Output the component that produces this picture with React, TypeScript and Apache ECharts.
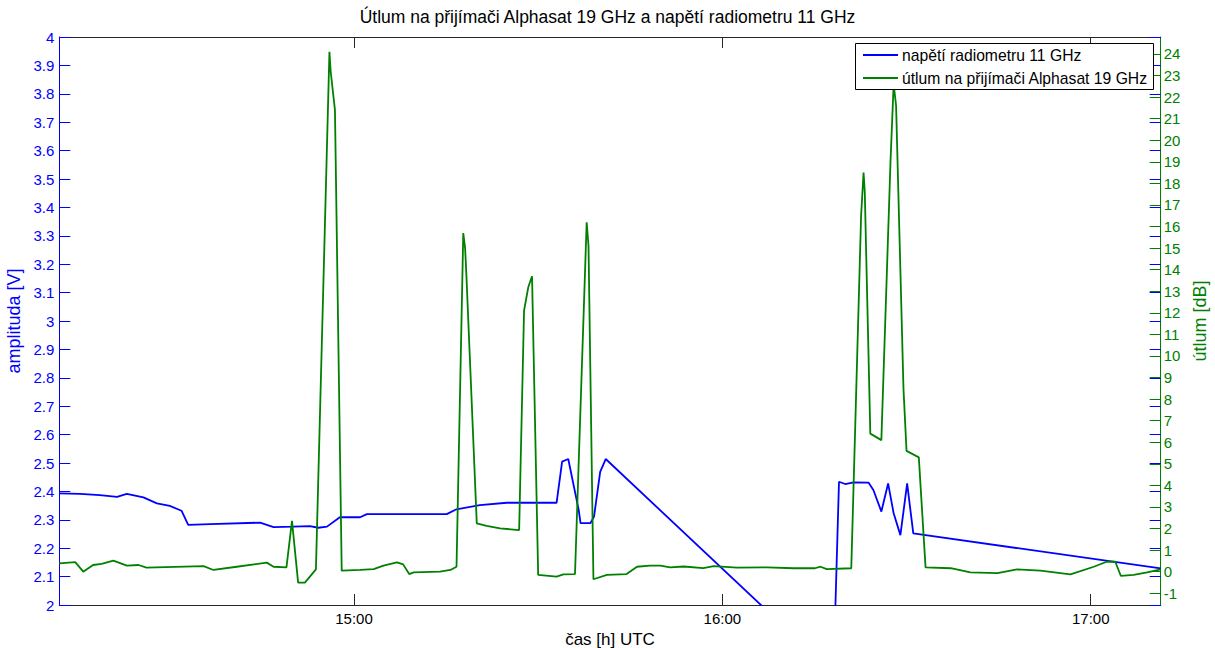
import React, { useEffect, useRef } from "react";
import * as echarts from "echarts";

// time in minutes after 14:00 UTC
const blueT = [12.0, 15.4, 18.6, 21.4, 23.0, 25.7, 27.9, 30.0, 31.9, 33.0, 36.6, 44.7, 46.9, 50.1, 52.8, 54.2, 55.6, 57.7, 61.0, 62.1, 75.1, 76.7, 80.5, 84.9, 93.0, 93.9, 94.9, 96.6, 96.9, 98.5, 99.1, 100.1, 101.0, 138.1, 139.0, 140.0, 141.4, 143.8, 144.6, 145.9, 147.0, 147.9, 149.0, 150.1, 151.1, 191.4];
const blueV = [2.393, 2.391, 2.387, 2.381, 2.391, 2.379, 2.358, 2.349, 2.332, 2.282, 2.285, 2.290, 2.274, 2.276, 2.278, 2.272, 2.276, 2.309, 2.309, 2.320, 2.320, 2.337, 2.352, 2.360, 2.360, 2.505, 2.514, 2.335, 2.288, 2.288, 2.311, 2.469, 2.514, 1.76, 2.434, 2.426, 2.432, 2.431, 2.405, 2.329, 2.428, 2.323, 2.246, 2.428, 2.252, 2.129];

const greenT = [12.0, 14.6, 15.9, 17.5, 18.9, 20.8, 23.0, 24.9, 26.2, 35.5, 37.1, 40.9, 45.8, 46.9, 49.0, 49.9, 50.9, 52.0, 53.8, 56.0, 56.2, 56.9, 58.0, 61.0, 63.2, 64.8, 67.0, 68.0, 69.0, 69.7, 74.0, 75.7, 76.7, 77.8, 78.1, 78.3, 80.0, 81.6, 83.8, 86.9, 87.7, 88.4, 89.0, 90.0, 93.0, 94.1, 96.0, 97.9, 98.2, 99.0, 101.2, 104.4, 106.1, 108.2, 109.9, 111.5, 113.7, 116.9, 118.6, 122.4, 127.3, 131.6, 135.1, 136.0, 137.0, 141.0, 142.6, 143.0, 143.2, 144.1, 145.9, 147.4, 147.9, 148.3, 149.5, 150.0, 152.0, 153.1, 157.2, 160.4, 164.8, 168.0, 171.8, 176.7, 180.5, 182.6, 184.0, 184.9, 187.0, 189.2, 191.4];
const greenDB = [0.39, 0.44, 0.0, 0.31, 0.36, 0.51, 0.28, 0.31, 0.19, 0.26, 0.08, 0.23, 0.42, 0.23, 0.20, 2.36, -0.51, -0.51, 0.11, 24.1, 23.2, 21.4, 0.05, 0.08, 0.12, 0.28, 0.43, 0.34, -0.11, -0.03, 0.0, 0.08, 0.23, 15.7, 15.0, 13.8, 2.24, 2.12, 2.01, 1.93, 12.1, 13.2, 13.7, -0.15, -0.23, -0.12, -0.11, 16.2, 15.1, -0.35, -0.15, -0.11, 0.23, 0.28, 0.28, 0.2, 0.24, 0.17, 0.26, 0.19, 0.2, 0.16, 0.16, 0.23, 0.12, 0.16, 16.5, 18.5, 17.6, 6.4, 6.1, 19.1, 22.6, 21.6, 8.5, 5.6, 5.3, 0.2, 0.16, -0.03, -0.07, 0.11, 0.05, -0.12, 0.23, 0.46, 0.46, -0.19, -0.15, -0.03, 0.11];

const leftTicks = [2, 2.1, 2.2, 2.3, 2.4, 2.5, 2.6, 2.7, 2.8, 2.9, 3, 3.1, 3.2, 3.3, 3.4, 3.5, 3.6, 3.7, 3.8, 3.9, 4];
const rightTicks = [-1, 0, 1, 2, 3, 4, 5, 6, 7, 8, 9, 10, 11, 12, 13, 14, 15, 16, 17, 18, 19, 20, 21, 22, 23, 24];
const timeTicks = [60, 120, 180];
const seriesNames = ["napětí radiometru 11 GHz", "útlum na přijímači Alphasat 19 GHz"];

const FONT = "'Liberation Sans', Arial, Helvetica, sans-serif";
const BLUE = "#0000ff";
const GREEN = "#008000";

export default function App() {
  const ref = useRef<HTMLDivElement>(null);
  useEffect(() => {
    if (!ref.current) return;
    const chart = echarts.init(ref.current, null, { renderer: "svg" });
    const fmtTime = (v: number) => {
      const m = Math.round(840 + v);
      const h = Math.floor(m / 60);
      const mm = m % 60;
      return `${h}:${mm < 10 ? "0" + mm : mm}`;
    };
    const legendColors = [BLUE, GREEN];
    const legendYs = [55, 78];
    const legendElems: any[] = [
      {
        type: "rect",
        shape: { x: 855.5, y: 43.5, width: 298, height: 46 },
        style: { fill: "#ffffff", stroke: "#000000", lineWidth: 1 },
        z: 100,
      },
    ];
    seriesNames.forEach((n, i) => {
      legendElems.push({
        type: "line",
        shape: { x1: 863, y1: legendYs[i], x2: 898, y2: legendYs[i] },
        style: { stroke: legendColors[i], lineWidth: 1.8 },
        z: 101,
      });
      legendElems.push({
        type: "text",
        x: 902,
        y: legendYs[i],
        style: {
          text: n,
          fill: "#000",
          font: `15.7px ${FONT}`,
          textVerticalAlign: "middle",
          verticalAlign: "middle",
        },
        z: 101,
      });
    });
    chart.setOption({
      animation: false,
      backgroundColor: "#ffffff",
      textStyle: { fontFamily: FONT },
      title: {
        text: "Útlum na přijímači Alphasat 19 GHz a napětí radiometru 11 GHz",
        left: "center",
        top: 8,
        padding: 0,
        textStyle: { fontFamily: FONT, fontSize: 17.5, fontWeight: "normal", color: "#000" },
      },
      graphic: legendElems,
      grid: { left: 59.3, right: 54.3, top: 37, bottom: 43, containLabel: false, outerBoundsMode: "none" },
      xAxis: [
        {
          type: "value",
          position: "bottom",
          min: 12,
          max: 191.4,
          axisLine: { show: true, onZero: false, lineStyle: { color: "#262626", width: 1 } },
          axisTick: { show: true, inside: true, length: 11, customValues: timeTicks, lineStyle: { color: "#262626" } },
          axisLabel: { show: true, customValues: timeTicks, formatter: fmtTime, color: "#000", fontSize: 15, margin: 6, fontFamily: FONT },
          splitLine: { show: false },
          name: "čas [h] UTC",
          nameLocation: "middle",
          nameGap: 19,
          nameTextStyle: { color: "#000", fontSize: 17, fontFamily: FONT },
        },
        {
          type: "value",
          position: "top",
          min: 12,
          max: 191.4,
          axisLine: { show: true, onZero: false, lineStyle: { color: "#262626", width: 1 } },
          axisTick: { show: true, inside: true, length: 11, customValues: timeTicks, lineStyle: { color: "#262626" } },
          axisLabel: { show: false },
          splitLine: { show: false },
        },
      ],
      yAxis: [
        {
          type: "value",
          position: "left",
          min: 2,
          max: 4,
          axisLine: { show: true, onZero: false, lineStyle: { color: BLUE, width: 1 } },
          axisTick: { show: true, inside: true, length: 11, customValues: leftTicks, lineStyle: { color: BLUE } },
          axisLabel: {
            show: true,
            customValues: leftTicks,
            formatter: (v: number) => String(Math.round(v * 10) / 10),
            color: BLUE,
            fontSize: 15,
            margin: 5,
            fontFamily: FONT,
          },
          splitLine: { show: false },
          name: "amplituda [V]",
          nameLocation: "middle",
          nameGap: 33,
          nameTextStyle: { color: BLUE, fontSize: 18, fontFamily: FONT },
        },
        {
          type: "value",
          position: "right",
          min: -1.544,
          max: 24.788,
          axisLine: { show: true, onZero: false, lineStyle: { color: GREEN, width: 1 } },
          axisTick: { show: true, inside: true, length: 11, customValues: rightTicks, lineStyle: { color: GREEN } },
          axisLabel: { show: true, customValues: rightTicks, color: GREEN, fontSize: 15, margin: 3, fontFamily: FONT },
          splitLine: { show: false },
          name: "útlum [dB]",
          nameLocation: "middle",
          nameGap: 19,
          nameRotate: 90,
          nameTextStyle: { color: GREEN, fontSize: 18, fontFamily: FONT },
        },
        {
          type: "value",
          position: "right",
          min: 2,
          max: 4,
          axisLine: { show: false, onZero: false },
          axisTick: { show: true, inside: true, length: 11, customValues: leftTicks, lineStyle: { color: BLUE } },
          axisLabel: { show: false },
          splitLine: { show: false },
        },
      ],
      series: [
        {
          type: "line",
          name: seriesNames[0],
          xAxisIndex: 0,
          yAxisIndex: 0,
          data: blueT.map((t, i) => [t, blueV[i]]),
          symbol: "none",
          clip: true,
          lineStyle: { color: BLUE, width: 1.8 },
          itemStyle: { color: BLUE },
        },
        {
          type: "line",
          name: seriesNames[1],
          xAxisIndex: 0,
          yAxisIndex: 1,
          data: greenT.map((t, i) => [t, greenDB[i]]),
          symbol: "none",
          clip: true,
          lineStyle: { color: GREEN, width: 1.8 },
          itemStyle: { color: GREEN },
        },
      ],
    });
    return () => chart.dispose();
  }, []);
  return (
    <div
      ref={ref}
      style={{ position: "fixed", left: 0, top: 0, width: 1215, height: 648, background: "#fff" }}
    />
  );
}
